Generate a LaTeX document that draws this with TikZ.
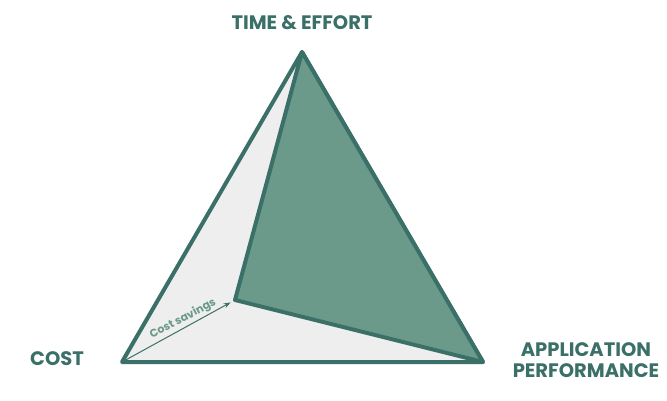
\documentclass[tikz,border=0pt]{standalone}
\usepackage{fontspec}
\setmainfont{Poppins}
\usepackage{tikz}
\usetikzlibrary{arrows.meta}
\definecolor{teal}{HTML}{3A7068}
\definecolor{sage}{HTML}{6B9A8B}
\definecolor{paper}{HTML}{EEEEEE}

\begin{document}
\begin{tikzpicture} [x=1pt,y=-1pt,
    edge/.style={draw=teal,line width=4pt,line join=round},
    corner/.style={text=teal,font=\fontsize{19.5}{21}\selectfont\bfseries,align=center}]
    \useasboundingbox (0,0) rectangle (667,401);
    \coordinate (T) at (302,52); % time & effort
    \coordinate (C) at (122,362); % cost
    \coordinate (P) at (483,362); % application performance
    \coordinate (S) at (235,300); % shifted cost corner
    \filldraw [edge,fill=paper] (C) -- (T) -- (P) -- cycle;
    \filldraw [edge,fill=sage] (T) -- (S) -- (P) -- cycle;
    \draw [draw=teal,line width=1pt,-{Stealth[length=7pt,width=5pt]},shorten <=4pt,shorten >=5pt] (C) -- (S);
    \node [text=sage,font=\fontsize{11}{12}\selectfont\bfseries,rotate=28,inner sep=0pt] (cs) at (183,319) {Cost savings};

    \node [corner] (te) at (302,23) {TIME \& EFFORT};
    \node [corner] (co) at (57,359) {COST};
    \node [corner] (ap) at (586,360) {APPLICATION\\PERFORMANCE};
\end{tikzpicture}
\end{document}
